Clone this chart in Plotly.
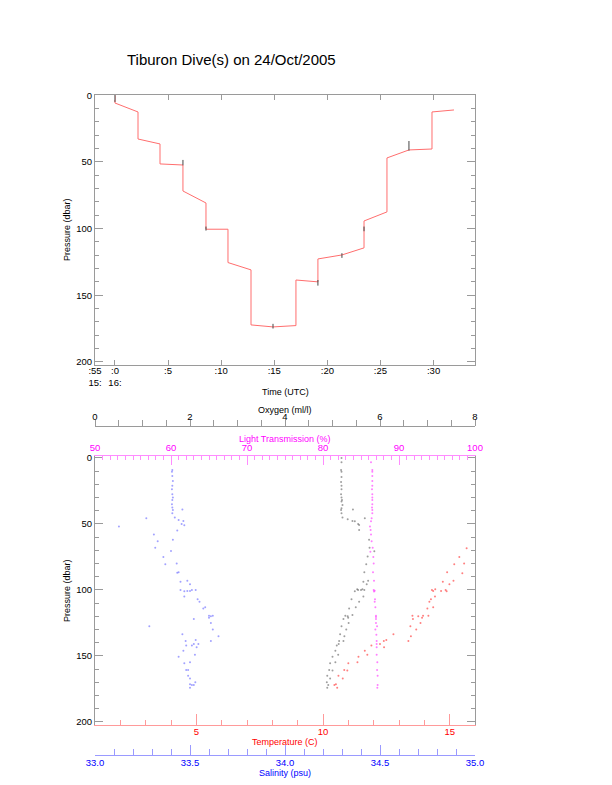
import plotly.graph_objects as go

W, H = 612, 785

title_text = "Tiburon Dive(s) on 24/Oct/2005"

# ---------------- Top panel: pressure vs time (minutes after 16:00 UTC)
dive_time = [0.0, 0.0, 2.17, 2.17, 4.24, 4.24, 6.40, 6.40, 8.57, 8.57,
             10.64, 10.64, 12.81, 12.81, 14.88, 17.04, 17.04, 19.11, 19.11, 21.37,
             23.45, 23.45, 25.61, 25.61, 27.68, 29.85, 29.85, 31.92]
dive_pressure = [0.0, 5.8, 12.5, 32.8, 36.5, 51.5, 52.3, 71.8, 80.8, 100.5,
                 100.5, 125.5, 131.0, 172.3, 173.8, 172.8, 138.6, 140.0, 122.8, 119.8,
                 114.5, 94.3, 87.5, 47.0, 41.0, 40.3, 12.5, 11.0]

mark_time = [0.0, 6.40, 8.57, 14.88, 19.11, 21.37, 23.45, 27.68]
mark_p_top = [-1.0, 48.5, 98.5, 171.5, 138.6, 118.5, 98.5, 34.3]
mark_p_bot = [5.0, 52.5, 101.5, 175.0, 142.8, 122.0, 102.0, 41.5]

time_range = [-1.88, 33.9]
time_tickvals = [0, 5, 10, 15, 20, 25, 30]
time_ticktext = [":0<br>16:", ":5", ":10", ":15", ":20", ":25", ":30"]
time_start_label = ":55<br>15:"

# ---------------- Bottom panel: profiles vs pressure
oxy_p = [0.0, 3.3, 9.1, 10.4, 14.4, 18.2, 21.0, 23.7, 27.5, 30.0, 31.8, 33.0, 35.6, 38.1, 39.4, 41.9,
         39.0, 45.0, 46.5, 47.7, 48.0, 50.0, 50.7, 54.5, 45.7, 62.0,
         68.0, 70.7, 74.7, 80.5, 86.6, 93.0, 93.7, 95.7, 100.0, 100.0,
         99.5, 100.0, 101.0, 99.5, 105.0, 107.0, 109.0, 114.0, 113.0, 119.5,
         120.0, 122.0, 119.0, 121.0, 125.0, 127.5, 130.0, 133.6, 135.0, 138.6,
         138.6, 141.0, 142.0, 146.0, 149.0, 150.5, 154.8, 155.5, 160.6, 161.0,
         165.0, 167.0, 170.0, 172.0, 174.0]
oxy_val = [5.19, 5.19, 5.18, 5.19, 5.19, 5.18, 5.19, 5.19, 5.18, 5.19, 5.20, 5.19, 5.21, 5.19, 5.18, 5.19,
           5.43, 5.21, 5.32, 5.42, 5.47, 5.54, 5.56, 5.56, 5.68, 5.77,
           5.78, 5.88, 5.74, 5.71, 5.67, 5.75, 5.65, 5.72, 5.67, 5.60,
           5.63, 5.54, 5.47, 5.52, 5.65, 5.40, 5.56, 5.35, 5.49, 5.27,
           5.32, 5.23, 5.42, 5.33, 5.34, 5.19, 5.29, 5.16, 5.25, 5.14,
           5.23, 5.13, 5.09, 5.06, 5.12, 5.00, 5.06, 4.95, 4.93, 5.00,
           4.89, 4.95, 4.88, 4.91, 4.89]

lt_p = [3.3, 9.1, 10.4, 13.6, 17.4, 21.0, 23.7, 27.5, 30.0, 31.8,
        35.1, 37.6, 39.4, 41.9, 45.7, 48.0, 52.0, 54.5, 58.0, 63.0,
        68.0, 71.0, 75.0, 80.0, 86.6, 93.0, 100.0, 100.5, 101.2, 107.0,
        109.0, 113.0, 119.5, 120.5, 122.0, 125.0, 127.5, 130.0, 134.0, 138.6,
        141.0, 143.4, 149.0, 154.8, 160.6, 165.0, 172.0, 174.0]
lt_val = [86.32, 86.49, 86.49, 86.49, 86.49, 86.49, 86.45, 86.49, 86.49, 86.49,
          86.49, 86.45, 86.49, 86.49, 86.40, 86.32, 86.18, 86.27, 86.32, 86.40,
          86.54, 86.23, 86.62, 86.67, 86.58, 86.71, 86.67, 86.80, 86.71, 86.84,
          86.80, 86.89, 86.97, 86.97, 86.97, 86.97, 87.11, 86.89, 87.02, 87.06,
          87.06, 87.06, 87.06, 87.15, 87.11, 87.19, 87.19, 87.15]
lt_stray_val = [111.3]
lt_stray_p = [0.0]

temp_p = [68.4, 75.0, 80.5, 80.0, 87.4, 86.6, 93.0, 95.7, 93.7, 100.0,
          101.0, 100.7, 99.5, 100.7, 100.0, 105.0, 107.0, 109.0, 113.0, 114.0,
          119.5, 119.5, 121.0, 120.0, 119.5, 122.0, 125.0, 127.5, 130.0, 133.6,
          135.0, 138.6, 137.9, 138.6, 141.0, 143.4, 142.0, 146.0, 149.0, 150.5,
          154.8, 155.5, 161.0, 160.6, 165.0, 167.0, 172.0, 171.4, 174.0]
temp_val = [15.67, 15.38, 15.18, 15.57, 15.50, 14.90, 15.15, 14.99, 14.73, 14.84,
            14.88, 14.66, 14.43, 14.35, 14.30, 14.42, 14.26, 14.20, 14.35, 14.12,
            14.16, 13.95, 13.91, 13.76, 13.53, 13.55, 13.85, 13.45, 13.68, 12.78,
            13.47, 13.37, 12.50, 12.40, 12.25, 12.41, 11.91, 11.65, 11.75, 11.40,
            11.36, 11.00, 10.96, 10.84, 10.61, 10.78, 10.45, 10.51, 10.56]

sal_p = [9.1, 10.4, 13.6, 17.4, 21.0, 23.7, 27.5, 30.0, 31.8, 35.1,
         37.6, 39.4, 41.9, 39.0, 45.7, 45.0, 47.0, 47.7, 50.0, 51.0,
         52.0, 55.0, 58.0, 63.0, 62.0, 68.0, 70.5, 75.0, 80.5, 80.0,
         86.6, 87.0, 93.7, 93.0, 95.7, 100.0, 101.0, 100.7, 100.7, 100.0,
         100.0, 105.0, 107.0, 109.0, 114.0, 113.0, 119.5, 120.0, 119.5, 121.0,
         122.0, 125.0, 127.5, 130.0, 135.0, 133.6, 138.6, 137.9, 138.6, 141.0,
         141.0, 142.0, 142.0, 143.4, 146.0, 149.0, 150.5, 154.8, 155.5, 160.6,
         160.6, 165.0, 167.0, 170.0, 171.4, 172.0, 172.0, 174.0]
sal_val = [33.407, 33.405, 33.407, 33.41, 33.407, 33.405, 33.407, 33.41, 33.407, 33.405,
           33.407, 33.41, 33.407, 33.46, 33.27, 33.42, 33.44, 33.465, 33.456, 33.47,
           33.126, 33.433, 33.31, 33.33, 33.41, 33.317, 33.40, 33.36, 33.37, 33.43,
           33.44, 33.433, 33.45, 33.486, 33.50, 33.45, 33.47, 33.486, 33.50, 33.51,
           33.53, 33.47, 33.54, 33.55, 33.57, 33.58, 33.60, 33.61, 33.62, 33.60,
           33.52, 33.61, 33.286, 33.62, 33.65, 33.46, 33.61, 33.53, 33.477, 33.544,
           33.52, 33.51, 33.48, 33.535, 33.465, 33.526, 33.44, 33.50, 33.47, 33.49,
           33.48, 33.49, 33.50, 33.528, 33.50, 33.51, 33.52, 33.50]

oxy_range = [0, 8]
lt_range = [50, 100]
temp_range = [1, 16]
sal_range = [33.0, 35.0]
p_range_top = [202.0, -0.6]
p_range_bot = [202.3, -1.5]

# ---------------- geometry helpers (screen pixel -> paper); the page body adds an 8px offset
OFF = 8

def fx(px):
    return (px - OFF) / W

def fy(py):
    return 1 - (py - OFF) / H

FONT = "Liberation Sans, Arial, Helvetica, sans-serif"
GRAY = "#9a9a9a"
TICKF = dict(family=FONT, size=9.5, color="black")

fig = go.Figure()

# top panel line
fig.add_trace(go.Scatter(x=dive_time, y=dive_pressure, mode="lines",
                         line=dict(color="rgb(255,110,110)", width=1),
                         xaxis="x", yaxis="y", hoverinfo="skip", showlegend=False))
mx, my = [], []
for t, a, b in zip(mark_time, mark_p_top, mark_p_bot):
    mx += [t, t, None]
    my += [a, b, None]
fig.add_trace(go.Scatter(x=mx, y=my, mode="lines",
                         line=dict(color="rgb(70,70,70)", width=1),
                         xaxis="x", yaxis="y", hoverinfo="skip", showlegend=False))

# bottom panel scatter
mk = 2.0
fig.add_trace(go.Scatter(x=sal_val, y=sal_p, mode="markers", xaxis="x3", yaxis="y2",
                         marker=dict(size=mk, color="rgba(100,100,255,0.6)", line=dict(width=0)),
                         hoverinfo="skip", showlegend=False))
fig.add_trace(go.Scatter(x=oxy_val, y=oxy_p, mode="markers", xaxis="x5", yaxis="y2",
                         marker=dict(size=mk, color="rgba(80,80,80,0.55)", line=dict(width=0)),
                         hoverinfo="skip", showlegend=False))
fig.add_trace(go.Scatter(x=lt_val, y=lt_p, mode="markers", xaxis="x4", yaxis="y2",
                         marker=dict(size=mk, color="rgba(255,60,255,0.65)", line=dict(width=0)),
                         hoverinfo="skip", showlegend=False))
fig.add_trace(go.Scatter(x=lt_stray_val, y=lt_stray_p, mode="markers", xaxis="x4", yaxis="y2",
                         marker=dict(size=2, color="rgba(255,120,255,0.7)", line=dict(width=0)),
                         cliponaxis=False, hoverinfo="skip", showlegend=False))
fig.add_trace(go.Scatter(x=temp_val, y=temp_p, mode="markers", xaxis="x2", yaxis="y2",
                         marker=dict(size=mk, color="rgba(255,60,60,0.65)", line=dict(width=0)),
                         hoverinfo="skip", showlegend=False))
# empty trace so the oxygen label axis is drawn
fig.add_trace(go.Scatter(x=[], y=[], mode="markers", xaxis="x6", yaxis="y2",
                         hoverinfo="skip", showlegend=False))

xdom = [fx(95), fx(475)]
ydom_top = [fy(364.5), fy(94.5)]
ydom_bot = [fy(725), fy(456)]

common = dict(showgrid=False, zeroline=False, showline=True, fixedrange=True, automargin=False)

yax = dict(common, range=p_range_top, tick0=0, dtick=50, ticks="inside", ticklen=8,
           tickcolor=GRAY, linecolor=GRAY, linewidth=1, mirror="ticks", tickfont=TICKF,
           minor=dict(dtick=10, tick0=0, ticks="inside", ticklen=4, tickcolor=GRAY))

fig.update_layout(
    template="none",
    width=W, height=H,
    margin=dict(l=0, r=0, t=0, b=0, pad=0, autoexpand=False),
    paper_bgcolor="white", plot_bgcolor="white",
    font=dict(family=FONT, size=9, color="black"),
    showlegend=False,
    xaxis=dict(common, domain=xdom, anchor="y", range=time_range,
               tickmode="array", tickvals=[time_range[0]] + time_tickvals,
               ticktext=[time_start_label] + time_ticktext,
               ticks="inside", ticklen=5, tickcolor=GRAY, linecolor=GRAY,
               mirror="ticks", tickfont=TICKF, ticklabelstandoff=-3),
    yaxis=dict(yax, domain=ydom_top, anchor="x"),
    yaxis2=dict(yax, domain=ydom_bot, anchor="x2", range=p_range_bot),
    xaxis2=dict(common, domain=xdom, anchor="y2", side="bottom", range=temp_range,
                tick0=0, dtick=5, ticks="inside", ticklen=11,
                tickcolor="#ff9a9a", linecolor="#ff9a9a",
                tickfont=dict(family=FONT, size=9.5, color="#ff0000"), ticklabelstandoff=-2,
                minor=dict(dtick=1, tick0=0, ticks="inside", ticklen=5, tickcolor="#ff9a9a")),
    xaxis3=dict(common, domain=xdom, overlaying="x2", anchor="free", position=fy(755),
                side="bottom", range=sal_range, tick0=33, dtick=0.5, tickformat=".1f",
                ticks="inside", ticklen=10, tickcolor="#9a9aff", linecolor="#9a9aff",
                tickfont=dict(family=FONT, size=9.5, color="#0000ff"), ticklabelstandoff=-1,
                minor=dict(dtick=0.1, tick0=33, ticks="inside", ticklen=6, tickcolor="#9a9aff")),
    xaxis4=dict(common, domain=xdom, overlaying="x2", anchor="y2", side="top",
                range=lt_range, tick0=50, dtick=10, ticks="inside", ticklen=9,
                tickcolor="#ff8cff", linecolor="#ff8cff",
                tickfont=dict(family=FONT, size=9.5, color="#ff00ff"),
                minor=dict(dtick=1, tick0=50, ticks="inside", ticklen=4, tickcolor="#ff8cff")),
    # oxygen axis: line + ticks
    xaxis5=dict(common, domain=xdom, overlaying="x2", anchor="free", position=fy(425.7),
                side="top", range=oxy_range, tick0=0, dtick=2, ticks="outside", ticklen=6,
                tickcolor=GRAY, linecolor=GRAY, showticklabels=False,
                minor=dict(dtick=0.5, tick0=0, ticks="outside", ticklen=6, tickcolor=GRAY)),
    # oxygen axis: labels only
    xaxis6=dict(showgrid=False, zeroline=False, showline=False, fixedrange=True, automargin=False,
                domain=xdom, overlaying="x2", anchor="free", position=fy(422),
                side="top", range=oxy_range, tick0=0, dtick=2, ticks="",
                tickfont=TICKF),
)

def label(text, px, py, color="black", size=9, angle=0):
    fig.add_annotation(text=text, x=fx(px), y=fy(py), xref="paper", yref="paper",
                       showarrow=False, xanchor="center", yanchor="middle", textangle=angle,
                       font=dict(family=FONT, size=size, color=color))

label(title_text, 231, 60, size=15)
label("Pressure (dbar)", 67, 230, angle=-90)
label("Time (UTC)", 285, 392)
label("Pressure (dbar)", 67, 591, angle=-90)
label("Oxygen (ml/l)", 285, 410)
label("Light Transmission (%)", 285, 439, color="#ff00ff")
label("Temperature (C)", 285, 742, color="#ff0000")
label("Salinity (psu)", 285, 773, color="#0000ff")

fig.write_html("out.html")
